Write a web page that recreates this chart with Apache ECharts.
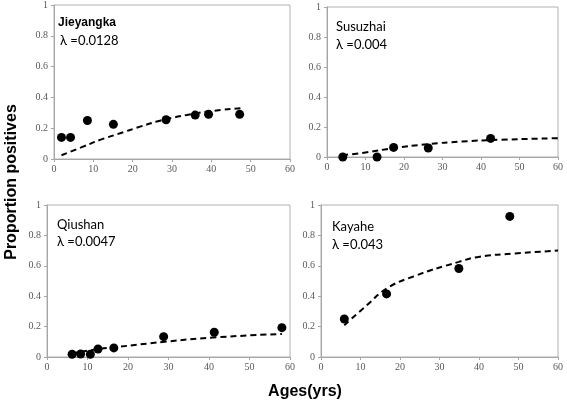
<!DOCTYPE html>
<html><head><meta charset="utf-8">
<script src="https://cdn.jsdelivr.net/npm/echarts@6/dist/echarts.min.js"></script>
<style>html,body{margin:0;padding:0;background:#fff}#c{width:567px;height:404px}</style>
</head><body><div id="c"></div>
<script>
// Panel names and lambda labels
const panelNames = ['Jieyangka', 'Susuzhai', 'Qiushan', 'Kayahe'];
const lambdaLabels = ['λ =0.0128', 'λ =0.004', 'λ =0.0047', 'λ =0.043'];
const xTicks = [0, 10, 20, 30, 40, 50, 60];
const yTicks = [0, 0.2, 0.4, 0.6, 0.8, 1];

// Observed points [age, proportion]
const jieyangkaObs = [[1.9,0.14],[4.2,0.14],[8.5,0.25],[15.1,0.225],[28.5,0.255],[35.9,0.285],[39.3,0.29],[47.2,0.29]];
const susuzhaiObs = [[4.1,0.0],[13.0,0.0],[17.3,0.064],[26.3,0.06],[42.5,0.124]];
const qiushanObs = [[6.2,0.018],[8.3,0.02],[10.7,0.018],[12.6,0.053],[16.5,0.06],[28.8,0.134],[41.3,0.163],[58.0,0.193]];
const kayaheObs = [[5.9,0.25],[16.6,0.415],[34.9,0.582],[47.8,0.925]];

// Fitted curves
const jieyangkaFit = [[1.9,0.024],[7.4,0.08],[11.7,0.124],[16.8,0.167],[21.9,0.21],[26.1,0.243],[28.7,0.26],[33.8,0.286],[38.9,0.308],[47.6,0.33]];
const susuzhaiFit = [[4,0.012],[10,0.03],[17,0.058],[26,0.085],[35,0.103],[45,0.115],[60,0.125]];
const qiushanFit = [[6,0.022],[12,0.05],[17,0.065],[29,0.1],[41,0.128],[58,0.152]];
const kayaheFit = [[5.9,0.209],[11.6,0.34],[16.6,0.45],[23.4,0.53],[34.9,0.626],[40.2,0.66],[48.7,0.68],[60,0.7]];

const obs = [jieyangkaObs, susuzhaiObs, qiushanObs, kayaheObs];
const fits = [jieyangkaFit, susuzhaiFit, qiushanFit, kayaheFit];

const grids = [
  {left:54, top:5, width:236, height:154},
  {left:327, top:7, width:231, height:150},
  {left:47, top:205, width:243, height:152},
  {left:321, top:205, width:237, height:152}
];
const labelPos = [[58,25,42],[336,28,46],[57,226,243],[332,228,246]];

const tickFont = {fontFamily:'Liberation Serif', fontSize:10, color:'#595959'};
const axisLine = {show:true, lineStyle:{color:'#a6a6a6', width:1}};

const option = {
  animation:false,
  backgroundColor:'#fff',
  grid: grids.map(g => Object.assign({show:true, borderColor:'#b0b0b0', borderWidth:1, backgroundColor:'transparent'}, g)),
  xAxis: grids.map((g,i) => ({
    type:'value', gridIndex:i, min:xTicks[0], max:xTicks[xTicks.length-1], interval:10,
    axisLine:axisLine, axisTick:{show:true, length:3, lineStyle:{color:'#a6a6a6'}},
    splitLine:{show:false}, axisLabel:Object.assign({margin:5}, tickFont)
  })),
  yAxis: grids.map((g,i) => ({
    type:'value', gridIndex:i, min:yTicks[0], max:yTicks[yTicks.length-1], interval:0.2,
    axisLine:axisLine, axisTick:{show:true, length:3, lineStyle:{color:'#a6a6a6'}},
    splitLine:{show:false}, axisLabel:Object.assign({margin:6}, tickFont)
  })),
  series: [].concat(
    fits.map((d,i) => ({
      type:'line', xAxisIndex:i, yAxisIndex:i, data:d, smooth:true, showSymbol:false,
      lineStyle:{color:'#000', width:2, type:[6,4]}, z:2
    })),
    obs.map((d,i) => ({
      type:'scatter', xAxisIndex:i, yAxisIndex:i, data:d, symbol:'circle', symbolSize:9,
      itemStyle:{color:'#000', opacity:1}, z:3
    }))
  ),
  graphic: [].concat(
    labelPos.map((p,i) => ({
      type:'text', left:p[0], top:p[1]-8,
      style:{text:panelNames[i], fontFamily:i===0?'Liberation Sans':'Lato', fontWeight:i===0?'bold':'normal', fontSize:i===0?12:13, fill:'#000'}
    })),
    labelPos.map((p,i) => ({
      type:'text', left:p[0]+(i===0?2:0), top:p[2]-8,
      style:{text:lambdaLabels[i], fontFamily:'Lato', fontSize:13, fill:'#000'}
    })),
    [
      {type:'text', x:12, y:182, rotation:Math.PI/2,
       style:{text:'Proportion positives', fontFamily:'Liberation Sans', fontWeight:'bold', fontSize:16, fill:'#000', textAlign:'center', textVerticalAlign:'middle'}},
      {type:'text', x:305, y:392,
       style:{text:'Ages(yrs)', fontFamily:'Liberation Sans', fontWeight:'bold', fontSize:16, fill:'#000', textAlign:'center', textVerticalAlign:'middle'}}
    ]
  )
};
echarts.init(document.getElementById('c'), null, {renderer:'canvas'}).setOption(option);
</script>
</body></html>
